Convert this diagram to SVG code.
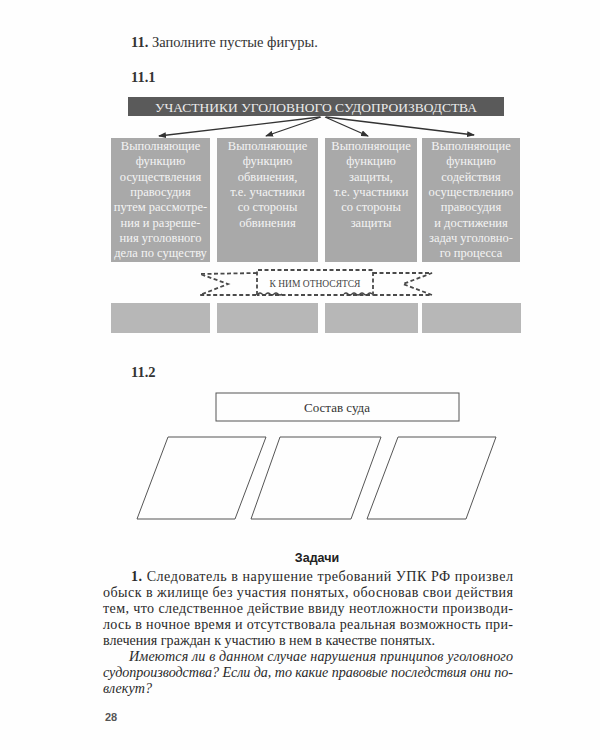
<svg xmlns="http://www.w3.org/2000/svg" width="600" height="750" viewBox="0 0 600 750">
<style>
.serif{font-family:"Liberation Serif","DejaVu Serif",serif;}
.h{font-size:14.5px;fill:#333;}
.b{font-weight:bold;}
.boxt{font-size:12.5px;fill:#f4f4f4;text-anchor:middle;}
.gbox{fill:#a9a9a9;}
.bbox{fill:#b7b7b7;}
.arrow{stroke:#333;stroke-width:1.3;fill:none;}
.dash{stroke:#4a4a4a;stroke-width:1.8;fill:none;stroke-dasharray:4 2.5;}
.para{font-size:14.1px;fill:#2a2a2a;}
.it{font-style:italic;}
.thin{fill:none;stroke:#555;stroke-width:1;}
</style>
<defs>
<marker id="ah" markerWidth="8" markerHeight="6" refX="7" refY="3" orient="auto" markerUnits="userSpaceOnUse">
<path d="M0,0 L8,3 L0,6 z" fill="#333"/>
</marker>
</defs>
<rect width="600" height="750" fill="#fefefe"/>

<text class="serif h" x="131" y="47"><tspan class="b">11.</tspan> Заполните пустые фигуры.</text>
<text class="serif h b" x="131" y="82">11.1</text>

<g id="banner">
<rect x="128" y="97" width="376" height="19" fill="#5a5a5a"/>
<text class="serif" x="316" y="112" font-size="13.5" fill="#ececec" text-anchor="middle" textLength="322" lengthAdjust="spacingAndGlyphs">УЧАСТНИКИ УГОЛОВНОГО СУДОПРОИЗВОДСТВА</text>
</g>

<g id="connectors">
<line class="arrow" x1="320" y1="117" x2="159" y2="136" marker-end="url(#ah)"/>
<line class="arrow" x1="321" y1="117" x2="266" y2="136" marker-end="url(#ah)"/>
<line class="arrow" x1="325" y1="117" x2="368" y2="136" marker-end="url(#ah)"/>
<line class="arrow" x1="326" y1="117" x2="474" y2="135" marker-end="url(#ah)"/>
</g>

<g id="box1">
<rect class="gbox" x="111" y="138" width="99" height="124"/>
<text class="serif boxt"><tspan x="160.5" y="150">Выполняющие</tspan><tspan x="160.5" y="165.3">функцию</tspan><tspan x="160.5" y="180.6">осуществления</tspan><tspan x="160.5" y="195.9">правосудия</tspan><tspan x="160.5" y="211.2">путем рассмотре-</tspan><tspan x="160.5" y="226.5">ния и разреше-</tspan><tspan x="160.5" y="241.8">ния уголовного</tspan><tspan x="160.5" y="257.1">дела по существу</tspan></text>
</g>
<g id="box2">
<rect class="gbox" x="217" y="138" width="101" height="124"/>
<text class="serif boxt"><tspan x="267.5" y="150">Выполняющие</tspan><tspan x="267.5" y="165.3">функцию</tspan><tspan x="267.5" y="180.6">обвинения,</tspan><tspan x="267.5" y="195.9">т.е. участники</tspan><tspan x="267.5" y="211.2">со стороны</tspan><tspan x="267.5" y="226.5">обвинения</tspan></text>
</g>
<g id="box3">
<rect class="gbox" x="325" y="138" width="92" height="124"/>
<text class="serif boxt"><tspan x="371" y="150">Выполняющие</tspan><tspan x="371" y="165.3">функцию</tspan><tspan x="371" y="180.6">защиты,</tspan><tspan x="371" y="195.9">т.е. участники</tspan><tspan x="371" y="211.2">со стороны</tspan><tspan x="371" y="226.5">защиты</tspan></text>
</g>
<g id="box4">
<rect class="gbox" x="422" y="138" width="98" height="124"/>
<text class="serif boxt"><tspan x="471" y="150">Выполняющие</tspan><tspan x="471" y="165.3">функцию</tspan><tspan x="471" y="180.6">содействия</tspan><tspan x="471" y="195.9">осуществлению</tspan><tspan x="471" y="211.2">правосудия</tspan><tspan x="471" y="226.5">и достижения</tspan><tspan x="471" y="241.8">задач уголовно-</tspan><tspan x="471" y="257.1">го процесса</tspan></text>
</g>

<g id="ribbon">
<path class="dash" d="M257,273 L200,274 L228,284 L200,295 L257,295"/>
<path class="dash" d="M373,273 L432,273 L403,284 L432,295 L373,295"/>
<path class="dash" d="M257,295 L257,270 L373,270 L373,295 L257,295"/>
<path d="M258,294 q2,-2 4,0 q2,2 4,0 q2,-2 4,0 q2,2 4,0 q2,-2 4,0 q2,2 4,0" fill="none" stroke="#444" stroke-width="1.2"/>
<path d="M344,294 q2,-2 4,0 q2,2 4,0 q2,-2 4,0 q2,2 4,0 q2,-2 4,0 q2,2 4,0 q2,-2 4,0" fill="none" stroke="#444" stroke-width="1.2"/>
<text class="serif" x="315" y="287" font-size="9.5" fill="#444" text-anchor="middle">К НИМ ОТНОСЯТСЯ</text>
</g>

<g id="empty1"><rect class="bbox" x="111" y="303" width="99" height="30"/></g>
<g id="empty2"><rect class="bbox" x="217" y="303" width="101" height="30"/></g>
<g id="empty3"><rect class="bbox" x="325" y="303" width="93" height="30"/></g>
<g id="empty4"><rect class="bbox" x="422" y="303" width="99" height="30"/></g>

<text class="serif h b" x="131" y="377">11.2</text>

<g id="sostav">
<rect class="thin" x="216" y="393" width="243" height="28"/>
<text class="serif" x="337" y="411.5" font-size="13" fill="#333" text-anchor="middle">Состав суда</text>
</g>
<g id="par1"><path class="thin" d="M168,437 L266,437 L235,519 L137,519 Z"/></g>
<g id="par2"><path class="thin" d="M280,437 L381,437 L351,519 L251,519 Z"/></g>
<g id="par3"><path class="thin" d="M398,437 L496,437 L466,519 L367,519 Z"/></g>

<text x="317" y="562" font-family="'Liberation Sans','DejaVu Sans',sans-serif" font-weight="bold" font-size="12.5" fill="#222" text-anchor="middle">Задачи</text>

<g class="serif para">
<text x="131" y="581" textLength="382" lengthAdjust="spacing"><tspan class="b">1.</tspan> Следователь в нарушение требований УПК РФ произвел</text>
<text x="103" y="597" textLength="410" lengthAdjust="spacing">обыск в жилище без участия понятых, обосновав свои действия</text>
<text x="103" y="613" textLength="410" lengthAdjust="spacing">тем, что следственное действие ввиду неотложности производи-</text>
<text x="103" y="629" textLength="410" lengthAdjust="spacing">лось в ночное время и отсутствовала реальная возможность при-</text>
<text x="103" y="645">влечения граждан к участию в нем в качестве понятых.</text>
<text class="it" x="129" y="661" textLength="384" lengthAdjust="spacing">Имеются ли в данном случае нарушения принципов уголовного</text>
<text class="it" x="103" y="677" textLength="410" lengthAdjust="spacing">судопроизводства? Если да, то какие правовые последствия они по-</text>
<text class="it" x="103" y="693">влекут?</text>
</g>

<text x="105" y="721" font-family="'Liberation Sans','DejaVu Sans',sans-serif" font-weight="bold" font-size="11" fill="#555">28</text>
</svg>
